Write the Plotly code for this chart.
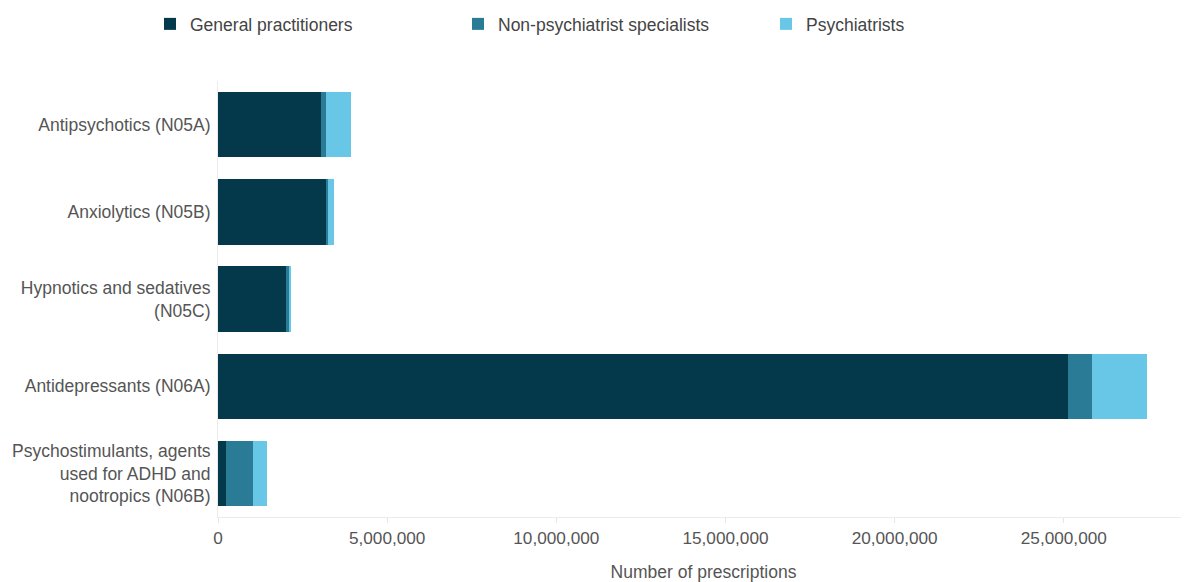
import plotly.graph_objects as go

categories = [
    "Antipsychotics (N05A)",
    "Anxiolytics (N05B)",
    "Hypnotics and sedatives<br>(N05C)",
    "Antidepressants (N06A)",
    "Psychostimulants, agents<br>used for ADHD and<br>nootropics (N06B)",
]
series_names = ["General practitioners", "Non-psychiatrist specialists", "Psychiatrists"]
general_practitioners = [3050000, 3200000, 2010000, 25120000, 240000]
non_psychiatrist_specialists = [150000, 60000, 90000, 710000, 800000]
psychiatrists = [740000, 180000, 60000, 1630000, 410000]
x_tick_values = [0, 5000000, 10000000, 15000000, 20000000, 25000000]
x_tick_labels = ["0", "5,000,000", "10,000,000", "15,000,000", "20,000,000", "25,000,000"]

colors = ["#03394b", "#2a7c96", "#68c6e6"]
values = [general_practitioners, non_psychiatrist_specialists, psychiatrists]

W, H = 1181, 574

fig = go.Figure()
for name, vals, col in zip(series_names, values, colors):
    fig.add_trace(go.Bar(
        y=categories, x=vals, name=name, orientation="h",
        marker=dict(color=col, line=dict(width=0)),
        hovertemplate="%{y}<br>" + name + ": %{x:,}<extra></extra>",
    ))

fig.update_layout(
    barmode="stack",
    bargap=0.25,
    width=W, height=H,
    margin=dict(l=210, r=0, t=73, b=65),
    paper_bgcolor="white", plot_bgcolor="white",
    font=dict(family="Liberation Sans, Arial, sans-serif", size=17.5, color="#555555"),
    legend=dict(
        orientation="h", xref="container", yref="container",
        x=142 / W, y=1 - 16 / H, xanchor="left", yanchor="middle",
        traceorder="normal", entrywidth=263, entrywidthmode="pixels",
        font=dict(size=17.5, color="#444444"),
    ),
    xaxis=dict(
        range=[0, 28700000],
        tickvals=x_tick_values, ticktext=x_tick_labels,
        tickfont=dict(size=17.2),
        showgrid=False, zeroline=False,
        showline=True, linecolor="#ececec", linewidth=1,
        ticks="outside", ticklen=5, tickcolor="#e6e6e6",
        title=dict(text="Number of prescriptions", standoff=22, font=dict(size=17.5, color="#555555")),
        automargin=False,
    ),
    yaxis=dict(
        autorange="reversed",
        showgrid=False, zeroline=False,
        showline=True, linecolor="#ececec", linewidth=1,
        ticks="", ticklabelstandoff=3, automargin=False,
    ),
)

fig.write_html("out.html")
